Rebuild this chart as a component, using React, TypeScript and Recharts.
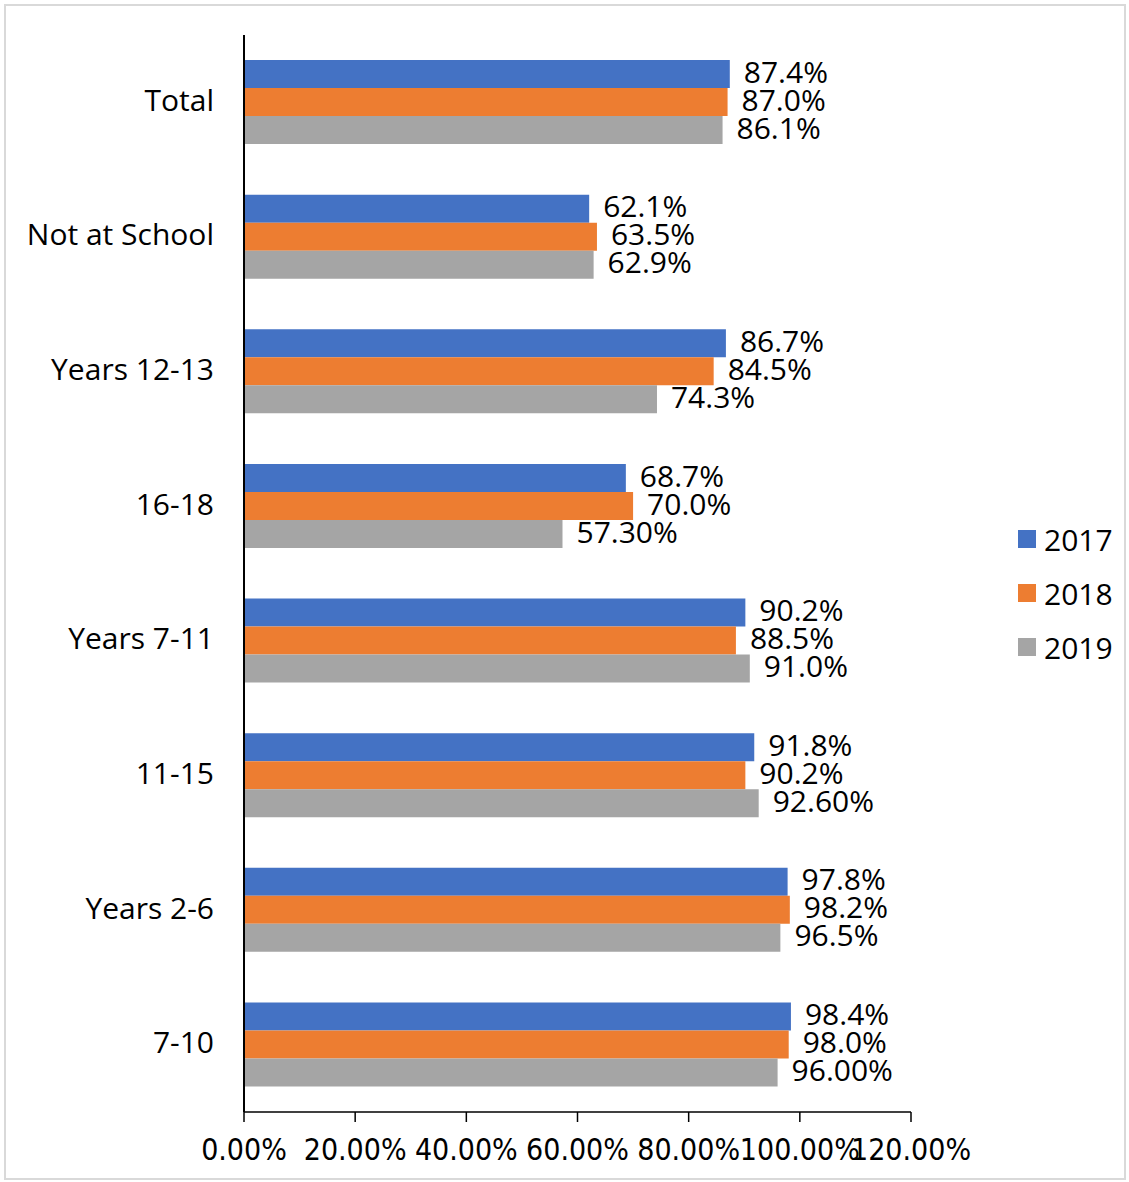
import { BarChart, Bar, XAxis, YAxis, LabelList } from 'recharts';

const categories = ['Total', 'Not at School', 'Years 12-13', '16-18', 'Years 7-11', '11-15', 'Years 2-6', '7-10'];
const values2017 = [87.4, 62.1, 86.7, 68.7, 90.2, 91.8, 97.8, 98.4];
const values2018 = [87.0, 63.5, 84.5, 70.0, 88.5, 90.2, 98.2, 98.0];
const values2019 = [86.1, 62.9, 74.3, 57.3, 91.0, 92.6, 96.5, 96.0];
const labels2017 = ['87.4%', '62.1%', '86.7%', '68.7%', '90.2%', '91.8%', '97.8%', '98.4%'];
const labels2018 = ['87.0%', '63.5%', '84.5%', '70.0%', '88.5%', '90.2%', '98.2%', '98.0%'];
const labels2019 = ['86.1%', '62.9%', '74.3%', '57.30%', '91.0%', '92.60%', '96.5%', '96.00%'];
const xTicks = [0, 20, 40, 60, 80, 100, 120];

const series = [
  { key: 'y2017', label: 'l2017', name: '2017', color: '#4472C4' },
  { key: 'y2018', label: 'l2018', name: '2018', color: '#ED7D31' },
  { key: 'y2019', label: 'l2019', name: '2019', color: '#A5A5A5' },
];

const chartData = categories.map((c, i) => ({
  category: c,
  y2017: values2017[i],
  y2018: values2018[i],
  y2019: values2019[i],
  l2017: labels2017[i],
  l2018: labels2018[i],
  l2019: labels2019[i],
}));

const FONT = '"Open Sans", sans-serif';

const CategoryTick = ({ x, y, payload }: any) => (
  <text x={x} y={y - 3} textAnchor="end" dominantBaseline="central" fontSize={30} fontFamily={FONT} fill="#000">
    {payload.value}
  </text>
);

const PercentTick = ({ x, y, payload }: any) => (
  <text x={x} y={y + 36} textAnchor="middle" fontSize={30} fontFamily='"DejaVu Sans Condensed", sans-serif' fill="#000">
    {payload.value.toFixed(2) + '%'}
  </text>
);

export default function App() {
  return (
    <div style={{ position: 'absolute', left: 0, top: 0, width: 1129, height: 1182, background: '#fff' }}>
      <div
        style={{
          position: 'absolute',
          left: 4,
          top: 4,
          width: 1122,
          height: 1176,
          border: '2px solid #d9d9d9',
          boxSizing: 'border-box',
        }}
      />
      <div style={{ position: 'absolute', left: 0, top: 0 }}>
        <BarChart
          width={1129}
          height={1182}
          data={chartData}
          layout="vertical"
          margin={{ top: 35, right: 218, bottom: 10, left: 0 }}
          barSize={28}
          barGap={0}
        >
          <XAxis
            type="number"
            domain={[0, 120]}
            ticks={xTicks}
            interval={0}
            height={60}
            tickSize={10}
            tickMargin={2}
            stroke="#000"
            strokeWidth={1.5}
            tick={<PercentTick />}
          />
          <YAxis
            type="category"
            dataKey="category"
            width={244}
            tickLine={false}
            tickSize={0}
            tickMargin={30}
            stroke="#000"
            strokeWidth={2}
            tick={<CategoryTick />}
          />
          {series.map((s) => (
            <Bar key={s.key} dataKey={s.key} name={s.name} fill={s.color} isAnimationActive={false}>
              <LabelList
                dataKey={s.label}
                position="right"
                offset={14}
                dy={-2}
                fill="#000"
                fontSize={30}
                fontFamily={FONT}
              />
            </Bar>
          ))}
        </BarChart>
      </div>
      <div style={{ position: 'absolute', left: 1018, top: 512, fontFamily: FONT, fontSize: 30, color: '#000' }}>
        {series.map((s) => (
          <div key={s.key} style={{ display: 'flex', alignItems: 'center', height: 54 }}>
            <span style={{ width: 18, height: 18, background: s.color, marginRight: 8, display: 'inline-block' }} />
            <span>{s.name}</span>
          </div>
        ))}
      </div>
    </div>
  );
}
